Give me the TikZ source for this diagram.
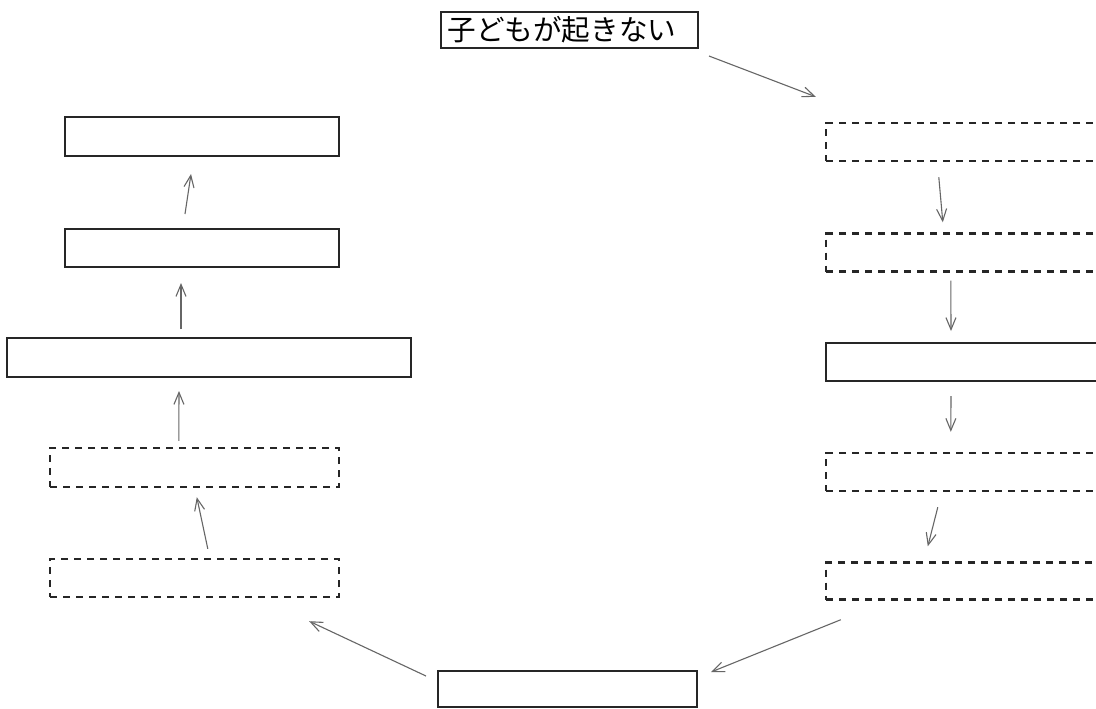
\documentclass[tikz,border=0pt]{standalone}
\usepackage{fontspec}
\newfontfamily\cjk{Noto Sans CJK JP}
\usetikzlibrary{arrows.meta}
\tikzset{
  solidbox/.style={draw=black!85, line width=1pt, rectangle, inner sep=0pt, fill=white},
  dashbox/.style={solidbox, line width=1.2pt, dash pattern=on 3.7pt off 2.8pt},
  conn/.style={draw=black!60, line width=0.55pt, -{Straight Barb[length=6pt,width=5pt,line width=0.55pt]}},
}
\begin{document}
\begin{tikzpicture}[x=0.5pt,y=-0.5pt]
\useasboundingbox (0,0) rectangle (1096,708);
\fill[white] (0,0) rectangle (1096,708);
\clip (0,0) rectangle (1096,708);
% top
\node[solidbox, minimum width=128.5pt, minimum height=18pt, text width=122pt, inner xsep=3pt, align=left] (top) at (569.5,30) {\cjk\fontsize{14.3}{16}\selectfont 子どもが起きない};
% right column
\node[dashbox, minimum width=145pt, minimum height=19pt] (r1) at (971,142) {};
\node[dashbox, minimum width=145pt, minimum height=19pt] (r2) at (971,252.5) {};
\node[solidbox, minimum width=145pt, minimum height=19pt] (r3) at (971,362) {};
\node[dashbox, minimum width=145pt, minimum height=19pt] (r4) at (971,472) {};
\node[dashbox, minimum width=145pt, minimum height=18.5pt] (r5) at (971,581) {};
% bottom
\node[solidbox, minimum width=129.5pt, minimum height=18pt] (bot) at (567.5,689) {};
% left column
\node[solidbox, minimum width=137pt, minimum height=19.5pt] (lA) at (202,136.5) {};
\node[solidbox, minimum width=137pt, minimum height=19pt] (lB) at (202,248) {};
\node[solidbox, minimum width=202pt, minimum height=19.5pt] (lC) at (209,357.5) {};
\node[dashbox, minimum width=144.5pt, minimum height=19.5pt] (lD) at (194.5,467.5) {};
\node[dashbox, minimum width=144.5pt, minimum height=19pt] (lE) at (194.5,578) {};
% connectors
\draw[conn] ([shift={(10,7)}]top.south east) -- ([shift={(-9,-25)}]r1.north west);
\draw[conn] ([shift={(114,15)}]r1.south west) -- ([shift={(118,-10)}]r2.north west);
\draw[conn] ([shift={(126,8)}]r2.south west) -- ([shift={(126,-11)}]r3.north west);
\draw[conn] ([shift={(126,14)}]r3.south west) -- ([shift={(126,-20)}]r4.north west);
\draw[conn] ([shift={(113,15)}]r4.south west) -- ([shift={(103,-15)}]r5.north west);
\draw[conn] ([shift={(16,19)}]r5.south west) -- ([shift={(13,2)}]bot.north east);
\draw[conn] ([shift={(-11,6)}]bot.north west) -- ([shift={(-31,23)}]lE.south east);
\draw[conn] ([shift={(159,-9)}]lE.north west) -- ([shift={(148,9)}]lD.south west);
\draw[conn] ([shift={(130,-6)}]lD.north west) -- ([shift={(173,13)}]lC.south west);
\draw[conn] ([shift={(175,-8)}]lC.north west) -- ([shift={(117,15)}]lB.south west);
\draw[conn] ([shift={(121,-14)}]lB.north west) -- ([shift={(127,17)}]lA.south west);
\end{tikzpicture}
\end{document}
